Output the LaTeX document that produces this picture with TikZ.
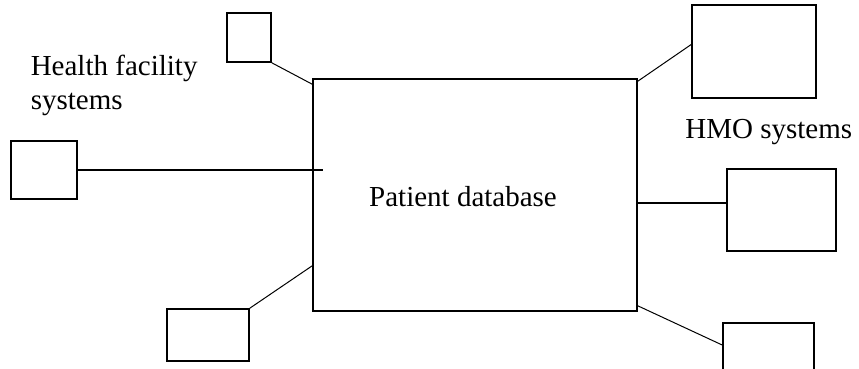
\documentclass[tikz,border=0pt]{standalone}
\usepackage{fontspec}
\setmainfont{Liberation Serif}
\begin{document}
\begin{tikzpicture}[x=1pt,y=-1pt,line width=1.6pt]
    \tikzstyle{box}=[rectangle, draw, inner sep=0pt]
    \tikzstyle{label}=[inner sep=0pt, font=\fontsize{29}{34}\selectfont]
    \useasboundingbox (0,0) rectangle (859,368);

    \node[box, minimum width=324pt, minimum height=232pt] (db) at (475,195) {};
    \node[label] (dbtext) at (463,197) {Patient database};

    \node[box, minimum width=44pt, minimum height=49pt] (tl) at (249,37.5) {};
    \node[box, minimum width=66pt, minimum height=58pt] (lf) at (44,170) {};
    \node[box, minimum width=82pt, minimum height=52pt] (bl) at (208,335) {};
    \node[box, minimum width=124pt, minimum height=93pt] (tr) at (754,51.5) {};
    \node[box, minimum width=109pt, minimum height=82pt] (rt) at (781.5,210) {};
    \node[box, minimum width=91pt, minimum height=52pt] (br) at (768.5,349) {};

    \node[label, anchor=base west, align=left] (health) at (30,109) {Health facility\\systems};
    \node[label, anchor=base east] (hmo) at (853,138) {HMO systems};

    \coordinate (lfend) at (323,170);

    \draw[line width=1pt] (tl.south east) -- ([yshift=-6pt]db.north west);
    \draw (lf.east) -- (lfend);
    \draw[line width=1pt] (bl.north east) -- ([yshift=46pt]db.south west);
    \draw[line width=1pt] ([yshift=-3pt]db.north east) -- ([yshift=7pt]tr.west);
    \draw ([yshift=-8pt]db.east) -- ([yshift=7pt]rt.west);
    \draw[line width=1pt] ([yshift=6pt]db.south east) -- ([yshift=4pt]br.west);
\end{tikzpicture}
\end{document}
